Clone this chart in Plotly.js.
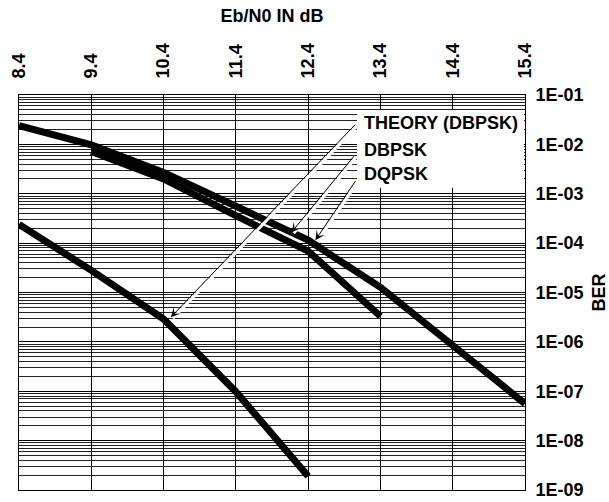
<!DOCTYPE html>
<html>
<head>
<meta charset="utf-8">
<script src="https://cdn.plot.ly/plotly-3.0.1.min.js"></script>
<style>
html,body{margin:0;padding:0;background:#fff;}
#chart{width:609px;height:502px;}
</style>
</head>
<body>
<div id="chart"></div>
<script>
// ---- data ----
const ebnoTicks = [8.4, 9.4, 10.4, 11.4, 12.4, 13.4, 14.4, 15.4];
const ebnoTickText = ["8.4", "9.4", "10.4", "11.4", "12.4", "13.4", "14.4", "15.4"];
const berTicks = [1e-1, 1e-2, 1e-3, 1e-4, 1e-5, 1e-6, 1e-7, 1e-8, 1e-9];
const berTickText = ["1E-01", "1E-02", "1E-03", "1E-04", "1E-05", "1E-06", "1E-07", "1E-08", "1E-09"];

const xTheory = [8.4, 9.4, 10.4, 11.4, 12.4];
const berTheory = [2.4e-4, 2.8e-5, 2.9e-6, 9.8e-8, 1.9e-9];

const xDbpsk = [9.4, 10.4, 11.4, 12.4, 13.4];
const berDbpsk = [7.2e-3, 2.0e-3, 3.6e-4, 6.9e-5, 3.3e-6];

const xDqpsk = [8.4, 9.4, 10.4, 11.4, 12.4, 13.4, 14.4, 15.4];
const berDqpsk = [2.4e-2, 9.8e-3, 2.7e-3, 5.5e-4, 1.15e-4, 1.27e-5, 8.5e-7, 5.6e-8];

const labels = ["THEORY (DBPSK)", "DBPSK", "DQPSK"];

// minor log grid (2..9 in each decade)
const minorTicks = [];
for (let e = -9; e <= -2; e++) {
  for (let n = 2; n <= 9; n++) minorTicks.push(n * Math.pow(10, e));
}

const FONT = "Liberation Sans, Arial, Helvetica, sans-serif";
const lineStyle = {color: "#000", width: 7};

const traces = [
  {x: xTheory, y: berTheory, mode: "lines", line: lineStyle, name: labels[0], hoverinfo: "skip"},
  {x: xDbpsk, y: berDbpsk, mode: "lines", line: lineStyle, name: labels[1], hoverinfo: "skip"},
  {x: xDqpsk, y: berDqpsk, mode: "lines", line: lineStyle, name: labels[2], hoverinfo: "skip"}
];

// arrows: [tailX, tailLogY, tipX, tipLogY]
const arrows = [
  [13.07, -1.57, 10.50, -5.50],
  [13.05, -2.21, 12.17, -3.78],
  [13.07, -2.71, 12.50, -3.94]
];

const annotations = [];
arrows.forEach(a => {
  annotations.push({
    x: a[2], y: a[3], ax: a[0], ay: a[1], xref: "x", yref: "y", axref: "x", ayref: "y",
    text: "", showarrow: true, arrowhead: 0, arrowwidth: 3, arrowcolor: "#fff",
    xshift: 2.2, yshift: -1, standoff: 0
  });
});
arrows.forEach(a => {
  annotations.push({
    x: a[2], y: a[3], ax: a[0], ay: a[1], xref: "x", yref: "y", axref: "x", ayref: "y",
    text: "", showarrow: true, arrowhead: 3, arrowsize: 1.6, arrowwidth: 1, arrowcolor: "#000",
    standoff: 0
  });
});
const labelY = [0.929, 0.861, 0.800];
labels.forEach((t, i) => {
  annotations.push({
    x: 0.678, y: labelY[i], xref: "paper", yref: "paper", xanchor: "left", yanchor: "middle",
    text: t, showarrow: false, font: {family: FONT, size: 18, color: "#000", weight: "bold"}
  });
});

const layout = {
  width: 609, height: 502,
  margin: {l: 19, r: 84, t: 95, b: 12, pad: 0},
  paper_bgcolor: "#fff", plot_bgcolor: "#fff",
  showlegend: false,
  font: {family: FONT, size: 18, color: "#000"},
  title: {
    text: "Eb/N0 IN dB", x: 0.5, xref: "paper", xanchor: "center",
    y: 1 - 16 / 502, yref: "container", yanchor: "middle",
    font: {family: FONT, size: 18, color: "#000", weight: "bold"}
  },
  xaxis: {
    side: "top", range: [8.4, 15.4], tickmode: "array", tickvals: ebnoTicks, ticktext: ebnoTickText,
    tickangle: -90, ticks: "", ticklabelstandoff: 12,
    tickfont: {family: FONT, size: 18, color: "#000", weight: "bold"},
    showgrid: true, gridcolor: "#000", gridwidth: 1, zeroline: false,
    showline: true, linecolor: "#000", linewidth: 1, mirror: true
  },
  yaxis: {
    type: "log", side: "right", range: [-9, -1], tickmode: "array", tickvals: berTicks, ticktext: berTickText,
    ticks: "", ticklabelstandoff: 6,
    tickfont: {family: FONT, size: 18, color: "#000", weight: "bold"},
    showgrid: true, gridcolor: "#000", gridwidth: 1, zeroline: false,
    showline: true, linecolor: "#000", linewidth: 1, mirror: true,
    minor: {tickmode: "array", tickvals: minorTicks, showgrid: true, gridcolor: "#222", gridwidth: 1, ticks: ""},
    title: {text: "BER", standoff: 12, font: {family: FONT, size: 18, color: "#000", weight: "bold"}}
  },
  shapes: [
    {type: "rect", xref: "paper", yref: "paper", x0: 0.668, x1: 0.998, y0: 0.765, y1: 0.962,
     fillcolor: "#fff", line: {width: 0}, layer: "above"}
  ],
  annotations: annotations
};

Plotly.newPlot("chart", traces, layout, {staticPlot: true, displayModeBar: false});
</script>
</body>
</html>
